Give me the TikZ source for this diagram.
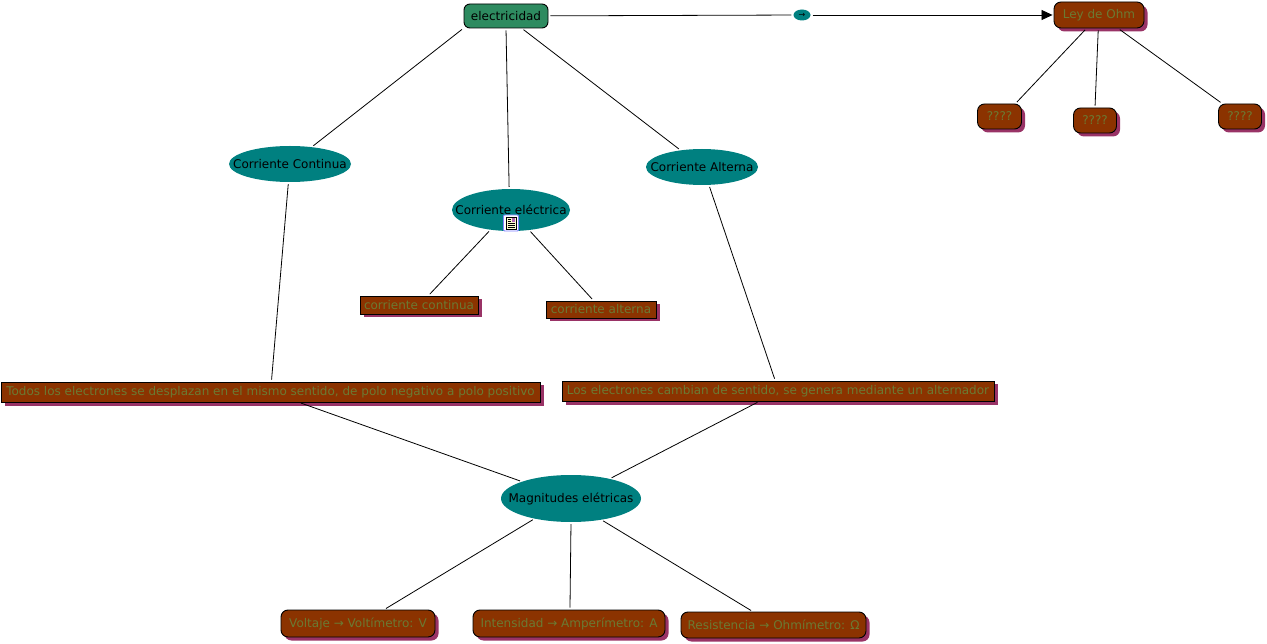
\documentclass[tikz,border=0pt]{standalone}
\usepackage{fontspec}
\setmainfont{DejaVu Sans}
\usetikzlibrary{arrows.meta,shapes.geometric,shadows}
\definecolor{tealfill}{HTML}{008080}
\definecolor{greenfill}{HTML}{2E8B60}
\definecolor{brownfill}{HTML}{8B3300}
\definecolor{olivetext}{HTML}{6B7A33}
\definecolor{shadowpurple}{HTML}{993366}
\newcommand{\lbl}[1]{\makebox[0pt]{#1}}
\begin{document}
\begin{tikzpicture}[x=1pt,y=-1pt,every node/.style={font=\fontsize{12}{14}\selectfont,align=center,inner sep=0pt},
   concept/.style={ellipse,fill=tealfill,text=black},
   topbox/.style={draw=black,line width=0.9pt,rounded corners=6pt,fill=greenfill,text=black},
   leafbox/.style={draw=black,line width=0.9pt,fill=brownfill,text=olivetext,
     drop shadow={shadow xshift=3.5pt,shadow yshift=-3.5pt,fill=shadowpurple,opacity=1}},
   roundbox/.style={leafbox,rounded corners=7pt},
   link/.style={draw=black,line width=0.8pt,shorten <=2pt,shorten >=2pt}]
  \useasboundingbox (0,0) rectangle (1267,644);
  \node[topbox,minimum width=84pt,minimum height=24pt] (elec) at (506,16) {electricidad};
  \node[concept,minimum width=17pt,minimum height=11pt,font=\fontsize{8}{8}\selectfont] (flow) at (802,15) {\lbl{→}};
  \node[roundbox,minimum width=90pt,minimum height=26pt] (ohm) at (1099,15) {Ley de Ohm};
  \node[roundbox,minimum width=44pt,minimum height=25pt] (qone) at (999.5,116.5) {????};
  \node[roundbox,minimum width=43pt,minimum height=25pt] (qtwo) at (1095,120.5) {????};
  \node[roundbox,minimum width=43pt,minimum height=25pt] (qthree) at (1240,116.5) {????};
  \node[concept,minimum width=122pt,minimum height=36pt] (cont) at (290,164) {\lbl{Corriente Continua}};
  \node[concept,minimum width=118pt,minimum height=42pt] (curr) at (511,210) {\lbl{\raisebox{1pt}{Corriente eléctrica}}};
  \node[concept,minimum width=112pt,minimum height=36pt] (alt) at (702,167) {\lbl{Corriente Alterna}};
  \node[leafbox,minimum width=118pt,minimum height=18pt] (lowcont) at (419,305) {corriente continua};
  \node[leafbox,minimum width=110pt,minimum height=17pt] (lowalt) at (601,309.5) {corriente alterna};
  \node[leafbox,minimum width=539pt,minimum height=20pt] (todos) at (270.5,392) {Todos los electrones se desplazan en el mismo sentido, de polo negativo a polo positivo};
  \node[leafbox,minimum width=432pt,minimum height=20pt] (los) at (778,391) {Los electrones cambian de sentido, se genera mediante un alternador};
  \node[concept,minimum width=140pt,minimum height=47pt] (mag) at (571,498.5) {\lbl{Magnitudes elétricas}};
  \node[roundbox,minimum width=154pt,minimum height=27pt] (volt) at (358,623.5) {Voltaje → Voltímetro: V};
  \node[roundbox,minimum width=192pt,minimum height=27pt] (amp) at (569,623.5) {Intensidad → Amperímetro: A};
  \node[roundbox,minimum width=185pt,minimum height=26pt] (res) at (773.5,625) {Resistencia → Ohmímetro: Ω};
  % note icon
  \node[draw=blue!50!white,fill=white,rounded corners=1pt,line width=0.8pt,minimum width=15pt,minimum height=16pt] (note) at (511,223) {};
  \node[draw=black,fill=yellow!20,line width=0.6pt,minimum width=10pt,minimum height=12pt] (paper) at (note) {};
  \fill[blue!50!red!60] (511.5,218.5) rectangle (515,222);
  \foreach \y in {219,221}
    \draw[line width=0.6pt] (507.5,\y) -- (510.5,\y);
  \foreach \y in {223.5,225.5,227.5}
    \draw[line width=0.6pt] (507.5,\y) -- (514.5,\y);
  % connectors
  \draw[link] (elec) -- (flow);
  \draw[link,shorten >=1pt,-{Triangle[length=11pt,width=10pt]}] (flow) -- (ohm);
  \draw[link] (elec.196) -- (cont.38);
  \draw[link] (elec.-90) -- (curr.95);
  \draw[link] (elec.-38) -- (alt.142);
  \draw[link] (cont.-95) -- (todos.85);
  \draw[link] (curr.224) -- (lowcont.45);
  \draw[link] (curr.-48) -- (lowalt.130);
  \draw[link] (alt.-69) -- (los.105);
  \draw[link] (todos.-20) -- (mag.161);
  \draw[link] (los.209) -- (mag.27);
  \draw[link] (mag.209) -- (volt.28);
  \draw[link] (mag.-90) -- (amp.86);
  \draw[link] (mag.-35) -- (res.147);
  \draw[link] (ohm.227) -- (qone.39);
  \draw[link] (ohm.-93) -- (qtwo.90);
  \draw[link] (ohm.-35) -- (qthree.144);
\end{tikzpicture}
\end{document}
